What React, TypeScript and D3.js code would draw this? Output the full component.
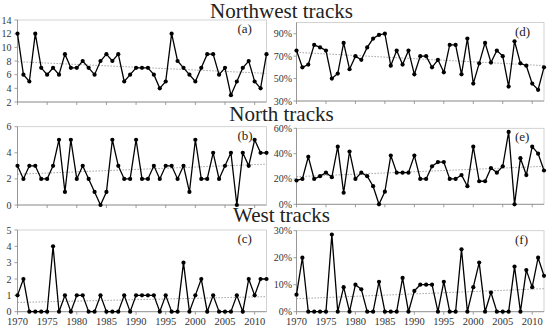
import React from "react";
import * as d3 from "d3";

const firstYear = 1970;
const lastYear = 2012;
const years = d3.range(firstYear, lastYear + 1);
const xTicks = [1970, 1975, 1980, 1985, 1990, 1995, 2000, 2005, 2010];

// counts of tracks per year
const northwestCount = [12, 6, 5, 12, 7, 6, 7, 6, 9, 7, 7, 8, 7, 6, 8, 9, 8, 9, 5, 6, 7, 7, 7, 6, 4, 5, 12, 8, 7, 6, 5, 7, 9, 9, 6, 7, 3, 5, 7, 8, 5, 4, 9];
const northCount = [3, 2, 3, 3, 2, 2, 3, 5, 1, 5, 2, 3, 2, 1, 0, 1, 5, 3, 2, 2, 5, 2, 2, 3, 2, 3, 3, 2, 3, 1, 5, 2, 2, 4, 2, 3, 4, 0, 4, 3, 5, 4, 4];
const westCount = [1, 2, 0, 0, 0, 0, 4, 0, 1, 0, 1, 1, 0, 0, 1, 0, 0, 0, 1, 0, 1, 1, 1, 1, 0, 1, 0, 0, 3, 0, 1, 2, 0, 1, 0, 0, 0, 1, 0, 2, 1, 2, 2];

// share of tracks per year (%)
const northwestPct = [75, 60, 62.5, 80, 77.8, 75, 50, 54.5, 81.8, 58.3, 70, 66.7, 77.8, 85.7, 88.9, 90, 61.5, 75, 62.5, 75, 53.8, 70, 70, 60, 66.7, 55.6, 80, 80, 53.8, 85.7, 45.5, 63.6, 81.8, 64.3, 75, 70, 42.9, 83.3, 63.6, 61.5, 45.5, 40, 60];
const northPct = [18.8, 20, 37.5, 20, 22.2, 25, 21.4, 45.5, 9.1, 41.7, 20, 25, 22.2, 14.3, 0, 10, 38.5, 25, 25, 25, 38.5, 20, 20, 30, 33.3, 33.3, 20, 20, 23.1, 14.3, 45.5, 18.2, 18.2, 28.6, 25, 30, 57.1, 0, 36.4, 23.1, 45.5, 40, 26.7];
const westPct = [6.3, 20, 0, 0, 0, 0, 28.6, 0, 9.1, 0, 10, 8.3, 0, 0, 11.1, 0, 0, 0, 12.5, 0, 7.7, 10, 10, 10, 0, 11.1, 0, 0, 23.1, 0, 9.1, 18.2, 0, 7.1, 0, 0, 0, 16.7, 0, 15.4, 9.1, 20, 13.3];

const titles = ["Northwest tracks", "North tracks", "West tracks"];

type Panel = {
  label: string;
  values: number[];
  domain: [number, number];
  ticks: number[];
  pct: boolean;
  x0: number; x1: number; y0: number; y1: number;
  showYears: boolean;
};

const panels: Panel[] = [
  { label: "(a)", values: northwestCount, domain: [2, 14], ticks: [2, 4, 6, 8, 10, 12, 14], pct: false, x0: 17.5, x1: 266.5, y0: 20, y1: 102, showYears: false },
  { label: "(b)", values: northCount, domain: [0, 6], ticks: [0, 2, 4, 6], pct: false, x0: 17.5, x1: 266.5, y0: 126.7, y1: 205, showYears: false },
  { label: "(c)", values: westCount, domain: [0, 5], ticks: [0, 1, 2, 3, 4, 5], pct: false, x0: 17.5, x1: 266.5, y0: 230, y1: 311.7, showYears: true },
  { label: "(d)", values: northwestPct, domain: [30, 100], ticks: [30, 50, 70, 90], pct: true, x0: 296.5, x1: 544, y0: 22.5, y1: 101, showYears: false },
  { label: "(e)", values: northPct, domain: [0, 60], ticks: [0, 20, 40, 60], pct: true, x0: 296.5, x1: 544, y0: 128.3, y1: 204.3, showYears: false },
  { label: "(f)", values: westPct, domain: [0, 30], ticks: [0, 10, 20, 30], pct: true, x0: 296.5, x1: 544, y0: 230.7, y1: 311.7, showYears: true },
];

const serif = { fontFamily: "Liberation Serif, DejaVu Serif, serif" };

// least squares fit for the dotted trend line
function fit(ys: number[]) {
  const xs = years;
  const mx = d3.mean(xs)!;
  const my = d3.mean(ys)!;
  let num = 0, den = 0;
  xs.forEach((x, i) => { num += (x - mx) * (ys[i] - my); den += (x - mx) * (x - mx); });
  const b = num / den;
  return (x: number) => my + b * (x - mx);
}

function ChartPanel({ p }: { p: Panel }) {
  const x = d3.scaleLinear().domain([firstYear, lastYear]).range([p.x0, p.x1]);
  const y = d3.scaleLinear().domain(p.domain).range([p.y1, p.y0]);
  const line = d3.line<number>().x((d, i) => x(years[i])).y(d => y(d));
  const trend = fit(p.values);
  return (
    <g>
      <rect x={p.x0} y={p.y0} width={p.x1 - p.x0} height={p.y1 - p.y0} fill="none" stroke="#c8c8c8" strokeWidth={0.8} />
      <line x1={p.x0} x2={p.x0} y1={p.y0} y2={p.y1} stroke="#888" strokeWidth={0.8} />
      <line x1={p.x0} x2={p.x1} y1={p.y1} y2={p.y1} stroke="#888" strokeWidth={0.8} />
      {p.ticks.map(t => (
        <g key={t}>
          <line x1={p.x0 - 3} x2={p.x0} y1={y(t)} y2={y(t)} stroke="#888" strokeWidth={0.8} />
          <text x={p.x0 - (p.pct ? 4.5 : 6)} y={y(t)} dy="0.35em" textAnchor="end" fontSize={10} style={serif} fill="#333">
            {p.pct ? `${t}%` : t}
          </text>
        </g>
      ))}
      {xTicks.map(t => (
        <g key={t}>
          <line x1={x(t)} x2={x(t)} y1={p.y1} y2={p.y1 + 3} stroke="#888" strokeWidth={0.8} />
          {p.showYears && (
            <text x={x(t)} y={324.5} textAnchor="middle" fontSize={10.5} style={serif} fill="#333">{t}</text>
          )}
        </g>
      ))}
      <line x1={x(firstYear)} x2={x(lastYear)} y1={y(trend(firstYear))} y2={y(trend(lastYear))}
        stroke="#999" strokeWidth={0.9} strokeDasharray="1.5,1.5" />
      <path d={line(p.values)!} fill="none" stroke="#000" strokeWidth={1.3} />
      {p.values.map((v, i) => (
        <circle key={i} cx={x(years[i])} cy={y(v)} r={2.1} fill="#000" />
      ))}
      <text x={p.x1 - 29} y={p.y0 + 13} fontSize={13} style={serif} fill="#222">{p.label}</text>
    </g>
  );
}

export default function App() {
  const titleY = [17.5, 120.5, 222];
  return (
    <svg width={550} height={328} style={{ position: "absolute", left: 0, top: 0, background: "#fff" }}>
      {panels.map(p => <ChartPanel key={p.label} p={p} />)}
      {titles.map((t, i) => (
        <text key={t} x={281.5} y={titleY[i]} textAnchor="middle" fontSize={21} style={serif} fill="#222">{t}</text>
      ))}
    </svg>
  );
}
